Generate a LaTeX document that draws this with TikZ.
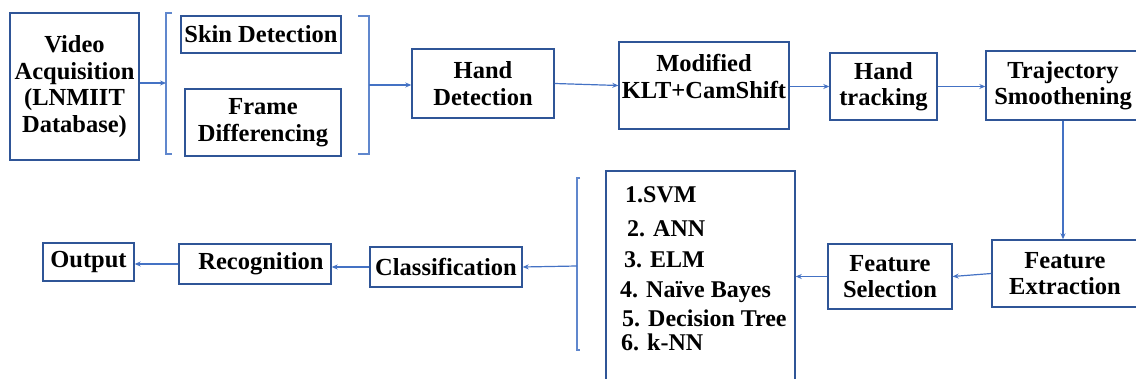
\documentclass[tikz,border=0pt]{standalone}
\usepackage{fontspec}
\setmainfont{Liberation Serif}
\usetikzlibrary{arrows.meta}
\definecolor{boxblue}{HTML}{2F5597}
\definecolor{linkblue}{HTML}{4472C4}
\begin{document}
\begin{tikzpicture}[x=1pt,y=-1pt,
  stage/.style={draw=boxblue, line width=1.4pt, align=center, inner sep=0pt,
    font=\bfseries\fontsize{24.5}{26.5}\selectfont},
  link/.style={draw=linkblue, line width=1.2pt, -{Stealth[length=6pt,width=5pt]}},
  brace/.style={draw=linkblue!85, line width=1.4pt},
  item/.style={anchor=base west, inner sep=0pt,
    font=\bfseries\fontsize{24}{26}\selectfont}]
\useasboundingbox (0,0) rectangle (1136,379);
\clip (0,0) rectangle (1136,379);

% top row
\node[stage, minimum width=129pt, minimum height=147pt] (video) at (74.5,86.5)
  {Video\\Acquisition\\(LNMIIT\\Database)};
\node[stage, minimum width=160pt, minimum height=37pt] (skin) at (261,34.5) {Skin Detection};
\node[stage, minimum width=156pt, minimum height=67pt] (frame) at (263,122.5) {Frame\\Differencing};
\node[stage, minimum width=142pt, minimum height=69pt] (hdet) at (483,83.5) {Hand\\Detection};
\node[stage, minimum width=170pt, minimum height=87pt] (mod) at (704,85.5) {Modified\\KLT+CamShift\\[-8pt]\mbox{}};
\node[stage, minimum width=107pt, minimum height=67pt] (htrack) at (883.5,86.5) {Hand\\tracking};
\node[stage, minimum width=154pt, minimum height=69pt] (traj) at (1063,85.5) {Trajectory\\Smoothening};

% bottom row
\node[stage, minimum width=146pt, minimum height=67pt] (fext) at (1065,273.5) {Feature\\Extraction};
\node[stage, minimum width=124pt, minimum height=65pt] (fsel) at (890,276.5) {Feature\\Selection};
\node[stage, minimum width=189pt, minimum height=229pt] (clf) at (700.5,285.5) {};
\node[item] (c1) at (625,203) {1.SVM};
\node[item] (c2) at (627,237) {2. ANN};
\node[item] (c3) at (624,268) {3. ELM};
\node[item] (c4) at (620,298) {4. Naïve Bayes};
\node[item] (c5) at (622,327) {5. Decision Tree};
\node[item] (c6) at (621,351) {6. k-NN};
\node[stage, minimum width=152pt, minimum height=40pt] (cls) at (446,267) {Classification};
\node[stage, minimum width=152pt, minimum height=40pt] (rec) at (255,264) {\hspace*{12pt}Recognition};
\node[stage, minimum width=91pt, minimum height=38pt] (out) at (88.5,262) {Output};

% brackets grouping the parallel steps
\coordinate (lb) at (166,83);
\coordinate (rb) at (369,85);
\coordinate (cb) at (577,266);
\draw[brace] (172,13) -- (166,13) -- (166,154) -- (172,154);
\draw[brace] (358,16) -- (369,16) -- (369,154) -- (358,154);
\draw[brace] (580,178) -- (577,178) -- (577,350) -- (580,350);

% connectors
\draw[link] (video.east |- lb) -- (lb);
\draw[link] (rb) -- (rb -| hdet.west);
\draw[link] (hdet.east) -- (mod.west);
\draw[link] (mod.east |- htrack.west) -- (htrack.west);
\draw[link] (htrack.east) -- (htrack.east -| traj.west);
\draw[link] (traj.south) -- (traj.south |- fext.north);
\draw[link] (fext.west) -- (fsel.east);
\draw[link] (fsel.west) -- (fsel.west -| clf.east);
\draw[link] (cb) -- (cls.east);
\draw[link] (cls.west) -- (cls.west -| rec.east);
\draw[link] (rec.west) -- (rec.west -| out.east);
\end{tikzpicture}
\end{document}
